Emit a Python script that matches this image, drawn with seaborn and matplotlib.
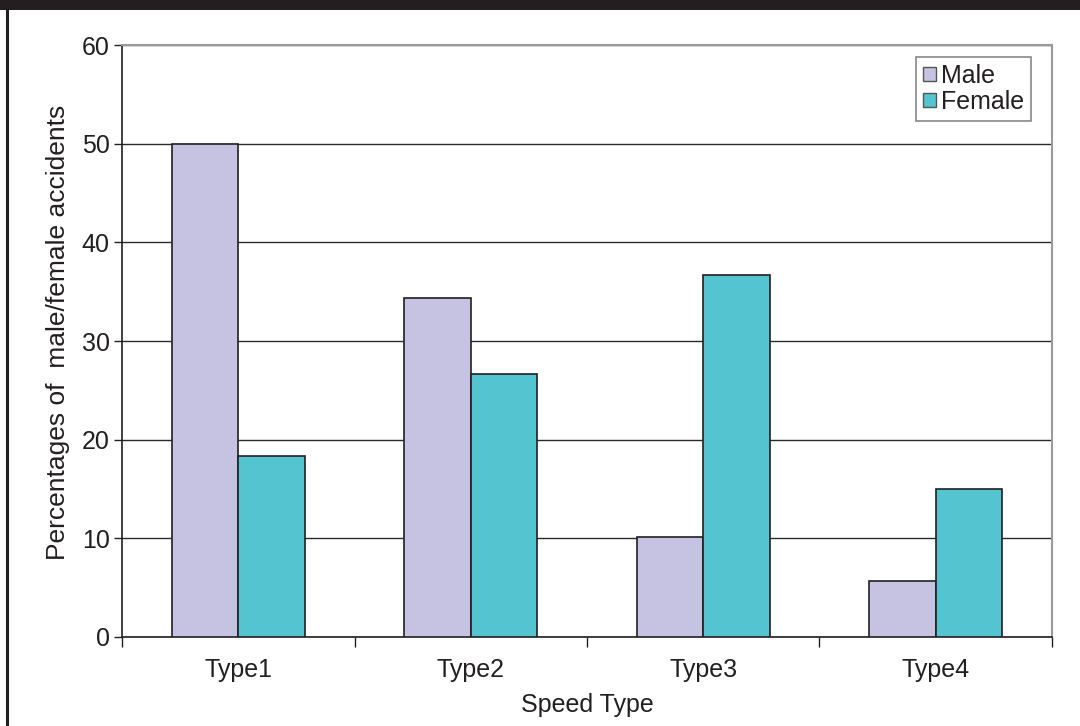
import matplotlib
matplotlib.use("Agg")
import matplotlib.pyplot as plt
import matplotlib.patches as mpatches
import matplotlib.lines as mlines
import seaborn as sns
import pandas as pd

# Accident shares by speed type
categories = ["Type1", "Type2", "Type3", "Type4"]
male = [50.0, 34.4, 10.1, 5.7]
female = [18.3, 26.7, 36.7, 15.0]
series_names = ["Male", "Female"]
colors = {"Male": "#c6c3e2", "Female": "#54c5d0"}
y_ticks = [0, 10, 20, 30, 40, 50, 60]

df = pd.DataFrame({
    "Speed Type": categories * 2,
    "Percent": male + female,
    "Sex": ["Male"] * len(categories) + ["Female"] * len(categories),
})

sns.set_theme(style="white")
plt.rcParams["font.family"] = ["Liberation Sans", "DejaVu Sans"]

FS = 18
fig = plt.figure(figsize=(10.8, 7.26), dpi=100)
ax = fig.add_axes([0.113, 0.1226, 0.861, 0.8154])

sns.barplot(data=df, x="Speed Type", y="Percent", hue="Sex",
            hue_order=series_names, palette=colors, width=0.573,
            edgecolor="#231f20", linewidth=1.2, saturation=1,
            errorbar=None, ax=ax, zorder=3)

ax.set_xlim(-0.5, 3.5)
ax.set_ylim(0, 60)
ax.set_yticks(y_ticks)
ax.set_yticklabels([str(t) for t in y_ticks], fontsize=FS, color="#231f20")
ax.set_xticks(range(len(categories)))
ax.set_xticklabels(categories, fontsize=FS, color="#231f20")
ax.set_xticks([i - 0.5 for i in range(len(categories) + 1)], minor=True)
ax.tick_params(axis="x", which="major", length=0, pad=15)
ax.tick_params(axis="x", which="minor", length=7, width=1, color="#231f20",
               direction="out", bottom=True)
ax.tick_params(axis="y", which="major", length=6, width=1, color="#231f20",
               direction="out", left=True, pad=3)

ax.set_xlabel("Speed Type", fontsize=FS, color="#231f20", labelpad=8)
ax.set_ylabel("Percentages of  male/female accidents", fontsize=19,
              color="#231f20")
ax.yaxis.set_label_coords(-0.056, 0.515)

ax.yaxis.grid(True, color="#2b2b2b", linewidth=1)
ax.set_axisbelow(True)
for side in ("left", "bottom"):
    ax.spines[side].set_color("#231f20")
    ax.spines[side].set_linewidth(1.2)
for side in ("top", "right"):
    ax.spines[side].set_color("#9a9a9a")
    ax.spines[side].set_linewidth(1.5)
    ax.spines[side].set_visible(True)

handles = [mpatches.Patch(facecolor=colors[n], edgecolor="#555555",
                          linewidth=1) for n in series_names]
leg = ax.legend(handles, series_names, loc="upper right",
                bbox_to_anchor=(1031 / 1080, 1 - 57 / 726),
                bbox_transform=fig.transFigure, fontsize=FS,
                frameon=True, fancybox=False, handlelength=0.5,
                handleheight=0.5, handletextpad=0.2, borderpad=0.28,
                labelspacing=0.08, borderaxespad=0)
leg.get_frame().set_edgecolor("#6a6a6a")
leg.get_frame().set_linewidth(1.2)
for t in leg.get_texts():
    t.set_color("#231f20")

# dark frame pieces along the top and left edges
fig.patches.append(mpatches.Rectangle((0, 1 - 10 / 726), 1, 10 / 726,
                                      transform=fig.transFigure,
                                      facecolor="#231f20", edgecolor="none"))
fig.lines.append(mlines.Line2D([7 / 1080, 7 / 1080], [0, 1],
                               transform=fig.transFigure,
                               color="#231f20", linewidth=2.2))

fig.savefig("out.png", dpi=100)
